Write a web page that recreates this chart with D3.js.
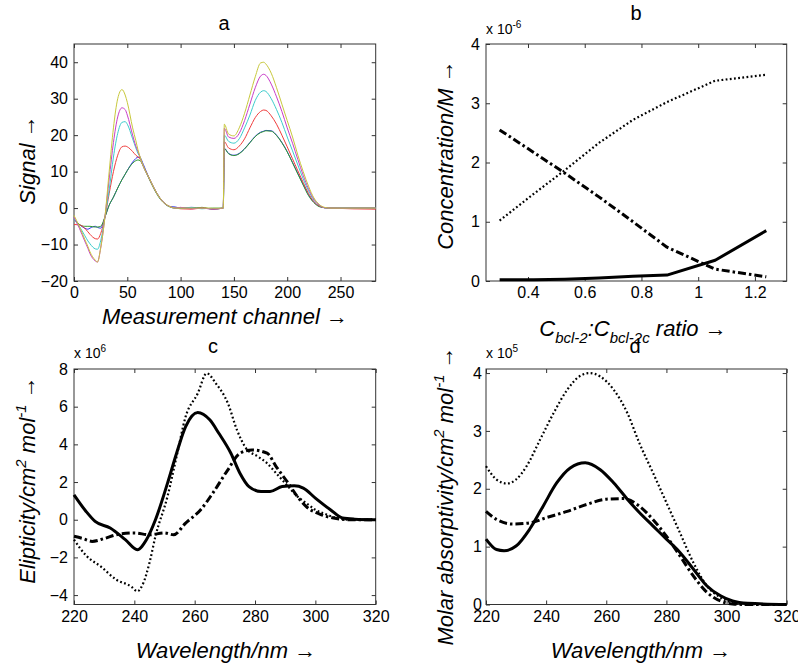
<!DOCTYPE html>
<html>
<head>
<meta charset="utf-8">
<script src="https://cdn.jsdelivr.net/npm/d3@7"></script>
<style>
body { margin: 0; background: #fff; }
text { font-family: "Liberation Sans", Arial, sans-serif; fill: #000; }
</style>
</head>
<body>
<script>
// panel a - measurement channels and signal traces (one per colour)
const channel = [0,5,10,13,15,20,22,25,29,33,37,41,45,48,50,55,58,60,62,65,70,75,80,85,90,95,100,110,120,130,140,
    141,145,150,155,160,165,170,175,178,180,185,190,195,200,205,210,215,220,225,230,235,240,283]
const sigYellow = [-2,-5,-8.5,-10.5,-12,-14.3,-14.8,-11,-2.5,10,22,30,32.5,31,29,22,18.5,16,14,11.5,8.5,5.5,3,1.3,0.4,0,0,0,0,0,0,
    23,20.3,19.8,22,26,31,36,39.8,40,39.5,37,33,28.5,24,19.5,14.5,10,6,2.8,1,0.2,0,0]
const sigMagenta = [-2.5,-5.5,-9,-11,-12.5,-14.5,-14.8,-11,-2.5,8,18,25,27.5,27,25.5,20,17,15.5,14,11.5,8.5,5.5,3,1.3,0.4,0,0.2,-0.2,0,-0.3,0,
    21.9,19.5,19.1,20.5,24,28.5,33,36.2,36.7,36.4,34,30.5,26.5,22,17.8,13.3,9,5.3,2.5,0.9,0.1,0,0]
const sigCyan = [-3,-5,-7.5,-9,-9.8,-11.2,-11.3,-9,-2.5,5,14,20.5,23.5,23.7,23,19,16.5,15,14,11.5,8.5,5.5,3,1.3,0.4,0,0,0.1,-0.2,0,0,
    20,18.3,17.8,19,22,25.5,29.5,31.8,32.2,32,30,27,23.5,19.5,15.7,11.8,8,4.7,2.2,0.8,0.1,0,0]
const sigRed = [-4.5,-4.6,-5.5,-6.5,-7.2,-8.4,-8.5,-7,-2.5,4,10,14.5,16.8,17,16.8,15.5,14.5,14,13.5,11.5,8.5,5.5,3,1.3,0.4,0,-0.2,-0.3,0,-0.2,0,
    18.2,16.5,16,17,19,22,24.8,26.5,26.9,26.8,25.3,23,20,16.8,13.5,10.2,7,4,1.8,0.6,0.1,0,-0.3]
const sigBlue = [-3,-4.5,-5.5,-5.8,-5.5,-5,-5.3,-5.5,-2.5,0.8,3,5.5,7.8,9.3,10.3,12.6,13.6,14,13.8,12,8.5,5.5,3,1.3,0.4,0.3,0,0.2,0,-0.2,0,
    16.4,15,14.5,15,16.3,18,19.7,20.8,21.1,21.3,21.2,20,18,15.5,12.5,9.5,6.5,3.6,1.6,0.5,0.1,0,0]
const sigGreen = [-3,-4.5,-5,-5,-5,-5.2,-5.2,-5,-2.5,0.8,3,5.5,7.8,9.3,10.3,12.3,13,13.2,13,11.5,8.3,5.3,2.8,1.2,0.3,0,0,-0.1,0.2,-0.3,0,
    16.3,14.9,14.4,14.9,16.2,17.9,19.6,20.7,21,21.2,21.1,19.9,17.9,15.4,12.4,9.3,6.3,3.4,1.5,0.4,0.1,0,0]

// panel b - concentration (x 1e-6 M) vs ratio
const ratio = [0.30,0.42,0.53,0.65,0.77,0.89,1.06,1.24]
const concDotted = [1.02,1.47,1.87,2.33,2.72,3.02,3.38,3.48]
const concDashDot = [2.55,2.17,1.82,1.42,1.0,0.57,0.2,0.07]
const concSolid = [0.02,0.02,0.03,0.05,0.08,0.1,0.35,0.85]

// panel c - ellipticity (x 1e6)
const cSolidNm = [220,224,227,232,237,241,244,247,251,254,257,261,265,268,272,275,278,282,285,289,293,296,300,305,309,313,320]
const cSolidVal = [1.32,0.44,-0.09,-0.44,-1.06,-1.59,-1.06,0,1.94,3.53,4.94,5.69,5.3,4.59,3.53,2.47,1.76,1.5,1.5,1.76,1.8,1.68,1.15,0.53,0.09,0.03,0]
const cDotNm = [220,224,229,234,239,241,243,245,247,251,254,257,261,264,267,271,274,277,281,284,287,291,294,297,300,304,307,312,320]
const cDotVal = [-1.06,-1.9,-2.5,-3.18,-3.55,-3.8,-3.35,-2.3,-0.88,1.24,3.35,5.47,6.7,7.77,7.24,6.18,4.77,3.8,3.35,3.0,2.47,1.76,1.24,0.88,0.53,0.26,0.09,0,0]
const cDashNm = [220,223,226,230,234,240,245,250,253,257,262,266,271,275,279,284,287,291,294,297,302,306,312,320]
const cDashVal = [-0.88,-1.0,-1.15,-1.0,-0.8,-0.7,-0.8,-0.7,-0.8,-0.18,0.53,1.41,2.65,3.53,3.7,3.53,2.82,1.94,1.24,0.7,0.26,0.09,0,0]

// panel d - molar absorptivity (x 1e5)
const dSolidNm = [220,223.5,226,230,234.5,239,243.5,248,253,258,262.5,267,271,275.5,280,284.5,289,293.5,298,302,307,320]
const dSolidVal = [1.13,0.95,0.93,1.01,1.3,1.7,2.1,2.36,2.45,2.33,2.1,1.82,1.59,1.36,1.13,0.9,0.61,0.32,0.15,0.06,0.02,0]
const dDotNm = [220,223.5,227,230,233.5,238,242.5,247,251,254.5,258,262.5,267,271,275.5,280,284.5,289,293.5,298,302,307,320]
const dDotVal = [2.39,2.16,2.09,2.16,2.39,2.85,3.31,3.71,3.94,4.0,3.94,3.71,3.31,2.79,2.28,1.76,1.24,0.72,0.32,0.12,0.03,0,0]
const dDashNm = [220,223.5,229,234.5,240,247,253.5,260,265.7,271,275.5,280,284.5,289,293.5,298,302,307,320]
const dDashVal = [1.61,1.47,1.39,1.41,1.5,1.61,1.73,1.82,1.83,1.7,1.47,1.18,0.84,0.49,0.21,0.06,0.01,0,0]

const ticksA_x = [0,50,100,150,200,250]
const ticksA_y = [-20,-10,0,10,20,30,40]
const ticksB_x = [0.4,0.6,0.8,1,1.2]
const ticksB_y = [0,1,2,3,4]
const ticksWl = [220,240,260,280,300,320]
const ticksC_y = [-4,-2,0,2,4,6,8]
const ticksD_y = [0,1,2,3,4]

const svg = d3.select("body").append("svg")
    .attr("width", 798)
    .attr("height", 663)

const tickFont = 16

function makeAxes(b, xDom, yDom, xTicks, yTicks, yPad) {
    const x = d3.scaleLinear().domain(xDom).range([b.left, b.right])
    const y = d3.scaleLinear().domain(yDom).range([b.bottom, b.top])
    const g = svg.append("g")
    const fmt = d3.format("~g")

    g.append("g").attr("transform", `translate(0,${b.bottom})`)
        .call(d3.axisBottom(x).tickValues(xTicks).tickSizeInner(-4).tickSizeOuter(0).tickPadding(6).tickFormat(fmt))
    g.append("g").attr("transform", `translate(0,${b.top})`)
        .call(d3.axisTop(x).tickValues(xTicks).tickSizeInner(-4).tickSizeOuter(0).tickFormat(""))
    g.append("g").attr("transform", `translate(${b.left},0)`)
        .call(d3.axisLeft(y).tickValues(yTicks).tickSizeInner(-4).tickSizeOuter(0).tickPadding(yPad).tickFormat(fmt))
    g.append("g").attr("transform", `translate(${b.right},0)`)
        .call(d3.axisRight(y).tickValues(yTicks).tickSizeInner(-4).tickSizeOuter(0).tickFormat(""))

    g.selectAll(".domain").remove()
    g.selectAll(".tick line").attr("stroke", "#333")
    g.selectAll(".tick text")
        .attr("font-family", "'Liberation Sans', Arial, sans-serif")
        .attr("font-size", tickFont)
        .attr("fill", "#111")

    g.append("rect")
        .attr("x", b.left).attr("y", b.top)
        .attr("width", b.right - b.left).attr("height", b.bottom - b.top)
        .attr("fill", "none").attr("stroke", "#333").attr("stroke-width", 1)
    return {g, x, y}
}

function drawLine(p, xs, ys, style, curve) {
    const line = d3.line()
        .x((d, i) => p.x(xs[i]))
        .y(d => p.y(d))
        .curve(curve || d3.curveMonotoneX)
    p.g.append("path")
        .attr("d", line(ys))
        .attr("fill", "none")
        .attr("stroke", style.color || "#000")
        .attr("stroke-width", style.width)
        .attr("stroke-dasharray", style.dash || null)
        .attr("stroke-linejoin", "round")
}

const solid = {width: 3}
const dotted = {width: 2.2, dash: "1.8,2.4"}
const dashDot = {width: 3, dash: "8,3,2.5,3"}

// panel a
const pA = makeAxes({left: 74, top: 44, right: 375.7, bottom: 281}, [0, 283], [-20, 45], ticksA_x, ticksA_y, 6)
const aSeries = [
    [sigBlue, "#3535ee"],
    [sigGreen, "#2f9a2f"],
    [sigRed, "#f03c3c"],
    [sigCyan, "#3ccccc"],
    [sigMagenta, "#c83cc8"],
    [sigYellow, "#c8c83c"]
]
aSeries.forEach(s => drawLine(pA, channel, s[0], {color: s[1], width: 1}))

// panel b
const pB = makeAxes({left: 486, top: 44, right: 786.7, bottom: 281}, [0.252, 1.312], [0, 4], ticksB_x, ticksB_y, 6)
drawLine(pB, ratio, concDotted, dotted, d3.curveLinear)
drawLine(pB, ratio, concDashDot, dashDot, d3.curveLinear)
drawLine(pB, ratio, concSolid, solid, d3.curveLinear)

// panel c
const pC = makeAxes({left: 74, top: 369, right: 375.7, bottom: 604.5}, [220, 320], [-4.5, 8], ticksWl, ticksC_y, 6)
drawLine(pC, cDotNm, cDotVal, dotted)
drawLine(pC, cDashNm, cDashVal, dashDot)
drawLine(pC, cSolidNm, cSolidVal, solid)

// panel d
const pD = makeAxes({left: 486, top: 369, right: 786.7, bottom: 604.5}, [220, 320], [0, 4.07], ticksWl, ticksD_y, 4)
drawLine(pD, dDotNm, dDotVal, dotted)
drawLine(pD, dDashNm, dDashVal, dashDot)
drawLine(pD, dSolidNm, dSolidVal, solid)

// titles
const titles = [["a", 224, 30], ["b", 636, 20], ["c", 213, 353], ["d", 635, 353]]
titles.forEach(t => svg.append("text")
    .attr("x", t[1]).attr("y", t[2])
    .attr("text-anchor", "middle")
    .attr("font-size", 20)
    .text(t[0]))

// exponent labels
function expLabel(x, y, exp) {
    const t = svg.append("text").attr("x", x).attr("y", y).attr("font-size", 14)
    t.append("tspan").text("x 10")
    t.append("tspan").attr("dy", -6).attr("font-size", 10).text(exp)
}
expLabel(486, 34, "-6")
expLabel(74, 358, "6")
expLabel(486, 358, "5")

// x labels
function xLabel(x, y, parts) {
    const t = svg.append("text")
        .attr("x", x).attr("y", y)
        .attr("text-anchor", "middle")
        .attr("font-size", 22)
        .attr("font-style", "italic")
    parts.forEach(p => {
        const s = t.append("tspan").text(p.text)
        if (p.dy) s.attr("dy", p.dy)
        if (p.size) s.attr("font-size", p.size)
    })
}
xLabel(225, 324, [{text: "Measurement channel \u2192"}])
xLabel(633, 336, [
    {text: "C"}, {text: "bcl-2", dy: 7, size: 15},
    {text: ":C", dy: -7}, {text: "bcl-2c", dy: 7, size: 15},
    {text: " ratio \u2192", dy: -7}
])
xLabel(226, 658, [{text: "Wavelength/nm \u2192"}])
xLabel(641, 658, [{text: "Wavelength/nm \u2192"}])

// y labels
function yLabel(x, y, parts) {
    const t = svg.append("text")
        .attr("transform", `translate(${x},${y}) rotate(-90)`)
        .attr("text-anchor", "middle")
        .attr("font-size", 22)
        .attr("font-style", "italic")
    parts.forEach(p => {
        const s = t.append("tspan").text(p.text)
        if (p.dy) s.attr("dy", p.dy)
        if (p.size) s.attr("font-size", p.size)
    })
}
yLabel(35, 160, [{text: "Signal \u2192"}])
yLabel(453, 155, [{text: "Concentration/M \u2192"}])
yLabel(35, 480, [
    {text: "Elipticity/cm"}, {text: "2", dy: -9, size: 15},
    {text: " mol", dy: 9}, {text: "-1", dy: -9, size: 15},
    {text: " \u2192", dy: 9}
])
yLabel(453, 496, [
    {text: "Molar absorptivity/cm"}, {text: "2", dy: -9, size: 15},
    {text: " mol", dy: 9}, {text: "-1", dy: -9, size: 15},
    {text: " \u2192", dy: 9}
])
</script>
</body>
</html>
